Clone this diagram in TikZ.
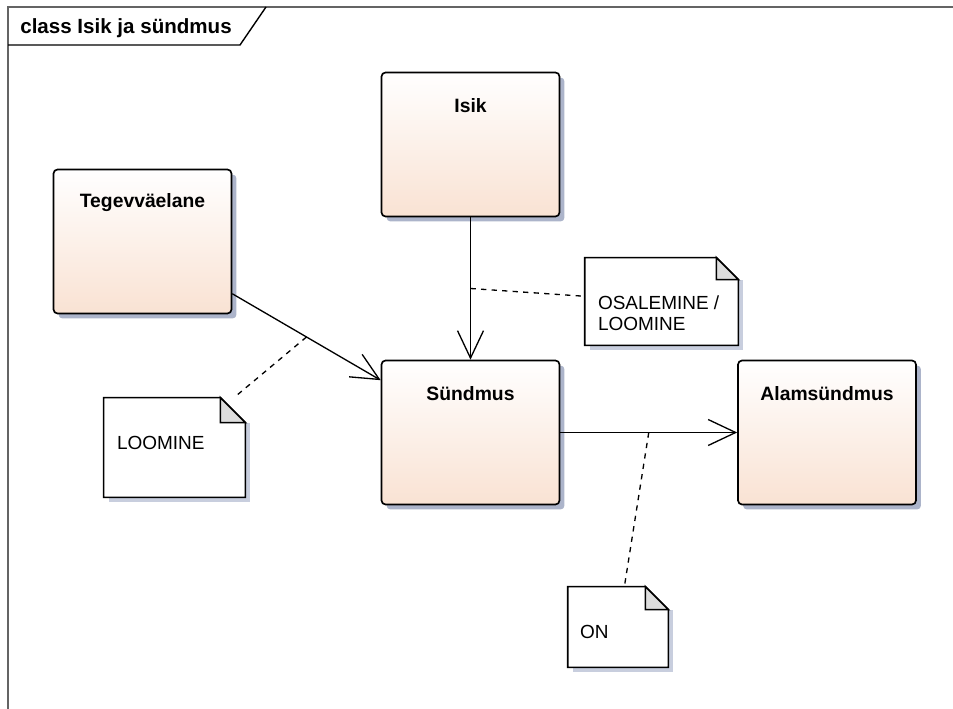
\documentclass[tikz,border=0pt]{standalone}
\usepackage{fontspec}
\setmainfont{Liberation Sans}
\usetikzlibrary{arrows.meta,shadows}

\definecolor{classtop}{RGB}{255,255,255}
\definecolor{classbottom}{RGB}{249,226,211}
\definecolor{classshade}{RGB}{172,180,202}
\definecolor{noteshade}{RGB}{200,206,222}
\definecolor{notefold}{RGB}{221,221,221}
\definecolor{framegray}{RGB}{100,100,100}

\tikzset{
  classbox/.style={rectangle, rounded corners=0.08cm, draw=black, line width=0.95pt,
    top color=classtop, bottom color=classbottom,
    minimum width=3.56cm, minimum height=2.88cm,
    drop shadow={shadow xshift=0.1cm, shadow yshift=-0.1cm, fill=classshade, opacity=1}},
  classname/.style={font=\fontsize{11}{13}\selectfont\bfseries, inner sep=0pt},
  notebox/.style={rectangle, inner sep=0pt},
  notetext/.style={font=\fontsize{10.8}{12}\selectfont, inner sep=0pt, anchor=west, align=left},
  assoc/.style={line width=0.75pt, -{Straight Barb[length=0.55cm, width=0.52cm, line width=0.75pt]}},
  notelink/.style={line width=0.75pt, dash pattern=on 3pt off 3pt}
}

% note outline: #1 node, #2 fold size
\newcommand\notepaper[2]{%
  \fill[noteshade] ([xshift=0.1cm,yshift=-0.1cm]#1.south west) rectangle ([xshift=0.1cm,yshift=-#2]#1.north east);%
  \draw[line width=0.95pt, fill=white] (#1.south west) -- (#1.north west) -- ([xshift=-#2]#1.north east)
    -- ([yshift=-#2]#1.north east) -- (#1.south east) -- cycle;%
  \draw[line width=0.95pt, fill=notefold] ([xshift=-#2]#1.north east) -- ([xshift=-#2,yshift=-#2]#1.north east)
    -- ([yshift=-#2]#1.north east) -- cycle;%
}

\begin{document}
\begin{tikzpicture}[x=0.02cm, y=-0.02cm]
  \useasboundingbox (0,0) rectangle (953,709);

  % Drawing frame
  \draw [framegray, line width=0.8pt] (953,7) -- (8,7) -- (8,709);%
  \draw [line width=0.8pt] (8,45) -- (240,45) -- (266,7);%
  \node [anchor=west, inner sep=0pt, font=\fontsize{11.7}{14}\selectfont\bfseries] (title) at (20,28) {class Isik ja sündmus};%

  % Drawing classes
  \node [classbox] (isik) at (470.5,144.5) {};%
  \node [classbox] (tegev) at (142.5,241.5) {};%
  \node [classbox] (sund) at (470.5,432.5) {};%
  \node [classbox] (alam) at (827,432.5) {};%

  % Marking class names
  \node [classname] (isikName) at ([yshift=-0.68cm]isik.north) {Isik};%
  \node [classname] (tegevName) at ([yshift=-0.68cm]tegev.north) {Tegevväelane};%
  \node [classname] (sundName) at ([yshift=-0.68cm]sund.north) {Sündmus};%
  \node [classname] (alamName) at ([yshift=-0.68cm]alam.north) {Alamsündmus};%

  % Drawing associations
  \draw [assoc] (isik) -- coordinate[midway] (mIsik) (sund);%
  \draw [assoc] (tegev) -- coordinate[midway] (mTegev) (sund);%
  \draw [assoc] (sund) -- coordinate[midway] (mSund) (alam);%

  % Drawing notes
  \node [notebox, minimum width=3.06cm, minimum height=1.74cm] (nOsa) at (661.5,301.5) {};%
  \notepaper{nOsa}{0.44cm}
  \node [notetext] (tOsa) at ([xshift=0.26cm,yshift=-0.24cm]nOsa.west) {OSALEMINE /\\LOOMINE};%

  \node [notebox, minimum width=2.82cm, minimum height=1.98cm] (nLoom) at (174.5,447.5) {};%
  \notepaper{nLoom}{0.5cm}
  \node [notetext] (tLoom) at ([xshift=0.26cm,yshift=0.09cm]nLoom.west) {LOOMINE};%

  \node [notebox, minimum width=2cm, minimum height=1.6cm] (nOn) at (618,627) {};%
  \notepaper{nOn}{0.46cm}
  \node [notetext] (tOn) at ([xshift=0.24cm,yshift=-0.1cm]nOn.west) {ON};%

  % Drawing note links
  \draw [notelink] (mIsik) -- (nOsa);%
  \draw [notelink] (mTegev) -- (nLoom);%
  \draw [notelink] (mSund) -- (nOn);%
\end{tikzpicture}
\end{document}
